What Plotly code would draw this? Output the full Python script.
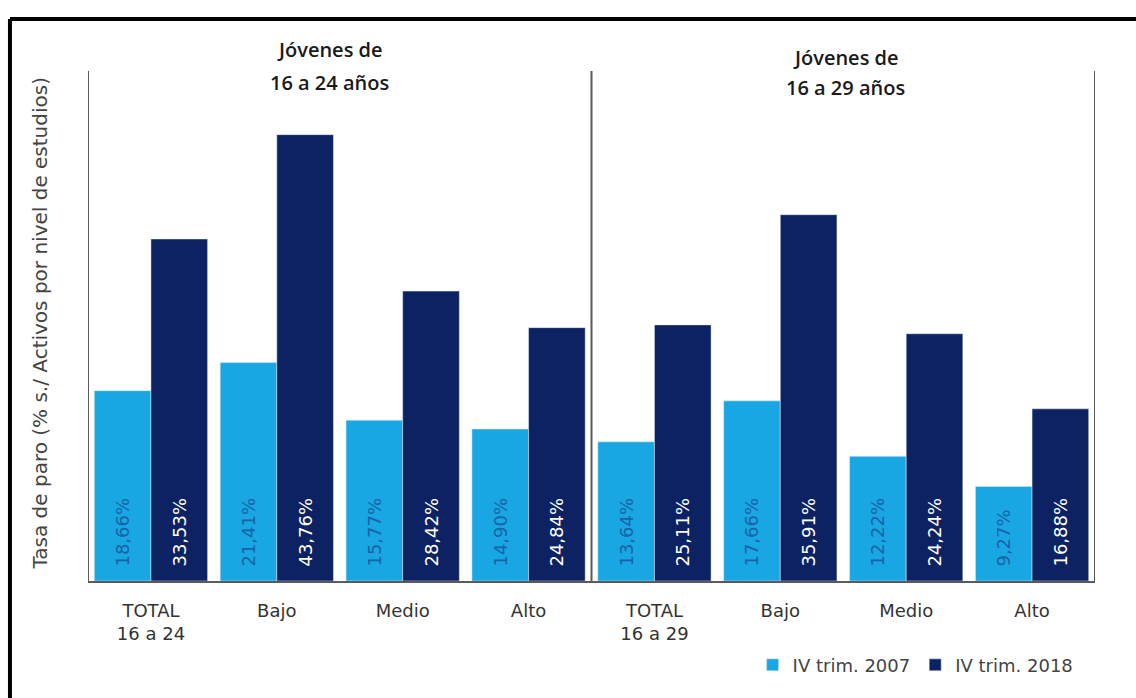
import plotly.graph_objects as go

# Categories (education level within each age group)
categories = ["TOTAL<br>16 a 24", "Bajo", "Medio", "Alto",
              "TOTAL<br>16 a 29", "Bajo", "Medio", "Alto"]
group_titles = ["Jóvenes de<br>16 a 24 años", "Jóvenes de<br>16 a 29 años"]
series_names = ["IV trim. 2007", "IV trim. 2018"]

# Unemployment rate (% of active population by education level)
values_2007 = [18.66, 21.41, 15.77, 14.90, 13.64, 17.66, 12.22, 9.27]
values_2018 = [33.53, 43.76, 28.42, 24.84, 25.11, 35.91, 24.24, 16.88]

LIGHT = "#19a7e4"
DARK = "#0c2262"
FONT = "DejaVu Sans"

x = list(range(len(categories)))
label_tpl = "\u00a0\u00a0%{y:.2f}%"

fig = go.Figure()
fig.add_trace(go.Bar(
    x=x, y=values_2007, name=series_names[0], marker_color=LIGHT,
    texttemplate=label_tpl, textposition="inside", insidetextanchor="start",
    textangle=-90, textfont=dict(family=FONT, size=18, color="#1763a6"),
    hoverinfo="skip",
))
fig.add_trace(go.Bar(
    x=x, y=values_2018, name=series_names[1], marker_color=DARK,
    texttemplate=label_tpl, textposition="inside", insidetextanchor="start",
    textangle=-90, textfont=dict(family=FONT, size=18, color="#ffffff"),
    hoverinfo="skip",
))

n = len(categories)
half = n // 2
axis_line = dict(color="#5a5a5a", width=2)

# Vertical separators: left edge, middle divider, right edge
for xv in (-0.5, half - 0.5, n - 0.5):
    fig.add_shape(type="line", xref="x", yref="paper", x0=xv, x1=xv,
                  y0=0, y1=1, line=axis_line, layer="above")

# Outer frame (left and top edges)
fig.add_shape(type="line", xref="paper", yref="paper",
              x0=-0.0775, x1=1.2, y0=1.102, y1=1.102,
              line=dict(color="#000000", width=4))
fig.add_shape(type="line", xref="paper", yref="paper",
              x0=-0.0775, x1=-0.0775, y0=-0.3, y1=1.102,
              line=dict(color="#000000", width=4))

# Group titles, one annotation per line
title_pos = [(1.42, (1.043, 0.978)), (5.52, (1.027, 0.967))]
for (tx, tys), txt in zip(title_pos, group_titles):
    for ty, line in zip(tys, txt.split("<br>")):
        fig.add_annotation(x=tx, y=ty, xref="x", yref="paper", text=line,
                           showarrow=False, xanchor="center", yanchor="middle",
                           font=dict(family="Open Sans", size=20, weight=600,
                                     color="#1a1a1a"))

# Y-axis title
fig.add_annotation(x=-0.048, y=0.506, xref="paper", yref="paper",
                   text="Tasa de paro (% s./ Activos por nivel de estudios)",
                   textangle=-90, showarrow=False, xanchor="center", yanchor="middle",
                   font=dict(family=FONT, size=20, color="#444444"))

fig.update_layout(
    width=1136, height=698,
    margin=dict(l=88, r=41, t=71, b=117),
    paper_bgcolor="white", plot_bgcolor="white",
    barmode="group", bargap=0.1, bargroupgap=0,
    separators=",.",
    showlegend=True,
    legend=dict(orientation="h", x=0.660, y=-0.165, xanchor="left", yanchor="middle",
                font=dict(family=FONT, size=18, color="#444444"),
                itemwidth=30, tracegroupgap=0, bgcolor="rgba(0,0,0,0)"),
    font=dict(family=FONT),
)
fig.update_xaxes(
    tickmode="array", tickvals=x, ticktext=categories,
    range=[-0.5, n - 0.5], showgrid=False, zeroline=False,
    showline=True, linecolor="#5a5a5a", linewidth=2,
    ticks="outside", ticklen=12, tickcolor="rgba(0,0,0,0)",
    tickfont=dict(family=FONT, size=18, color="#333333"),
)
fig.update_yaxes(range=[0, 50], showgrid=False, zeroline=False,
                 showline=False, showticklabels=False, ticks="")

fig.write_html("out.html")
